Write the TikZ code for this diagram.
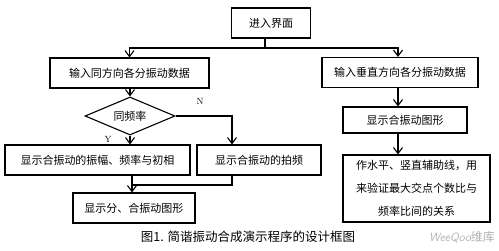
\documentclass[tikz,border=0pt]{standalone}
\usepackage{fontspec}
\newfontfamily\cjk{Noto Sans CJK SC}
\usetikzlibrary{arrows.meta,shapes.geometric}

\tikzset{
    box/.style={draw, line width=1.1pt, minimum height=30pt, inner sep=0pt, font=\cjk\fontsize{11}{12}\selectfont},
    flow/.style={line width=1.1pt},
    arrow/.style={flow, -{Straight Barb[length=6pt,width=9pt,line width=1.1pt]}},
}

\begin{document}
\begin{tikzpicture}[x=1pt, y=-1pt]
    \useasboundingbox (0,0) rectangle (499,250);

    % Start box
    \node[box, minimum width=79pt] (start) at (271,23) {进入界面};

    % Two input branches
    \node[box, minimum width=159pt] (inA) at (129.5,73) {输入同方向各分振动数据};
    \node[box, minimum width=156pt] (inB) at (400,72.5) {输入垂直方向各分振动数据};

    % Decision
    \node[box, diamond, aspect=2.37, minimum width=90pt, minimum height=38pt] (freq) at (130,116) {同频率};

    % Results of left branch
    \node[box, minimum width=185pt] (ampl) at (97.5,160) {显示合振动的振幅、频率与初相};
    \node[box, minimum width=124pt] (beat) at (259,160) {显示合振动的拍频};
    \node[box, minimum width=122pt] (show) at (134,208) {显示分、合振动图形};

    % Right branch
    \node[box, minimum width=124pt, minimum height=26pt] (showB) at (405,120) {显示合振动图形};
    \node[box, minimum width=147pt, minimum height=67pt, align=center,
          font=\cjk\fontsize{11}{23}\selectfont] (aux) at (416.5,188.5)
          {作水平、竖直辅助线，用\\来验证最大交点个数比与\\频率比间的关系};

    % Junction points
    \coordinate (split) at (265,48);
    \coordinate (turnN) at (232,117);
    \coordinate (merge) at (132,185);

    % Connectors
    \draw[flow] (start.south -| split) -- (split);
    \draw[arrow] (split) -| (inA.north);
    \draw[arrow] (split) -| ([xshift=-2pt]inB.north);
    \draw[arrow] (inA.south -| freq) -- (freq.north);
    \draw[arrow] (freq.east) -| (beat.north -| turnN);
    \draw[arrow] (freq.south) -- (ampl.north -| freq);
    \draw[flow] (beat.south -| turnN) |- (merge);
    \draw[arrow] (ampl.south -| merge) -- (show.north -| merge);
    \draw[arrow] ([xshift=-2pt]inB.south) -- ([xshift=-2pt]inB.south |- showB.north);
    \draw[arrow] ([xshift=-2pt]inB.south |- showB.south) -- ([xshift=-2pt]inB.south |- aux.north);

    % Branch labels
    \node[font=\small] (labN) at (200,101) {N};
    \node[font=\small] (labY) at (108,139) {Y};

    % Caption
    \node[font=\cjk\fontsize{12.5}{14}\selectfont] (caption) at (248,237) {图1. 简谐振动合成演示程序的设计框图};

    % Watermark
    \node[text=black!30, font=\sffamily\itshape\large] (mark) at (462,237) {WeeQoo{\cjk\upshape 维库}};
\end{tikzpicture}
\end{document}
